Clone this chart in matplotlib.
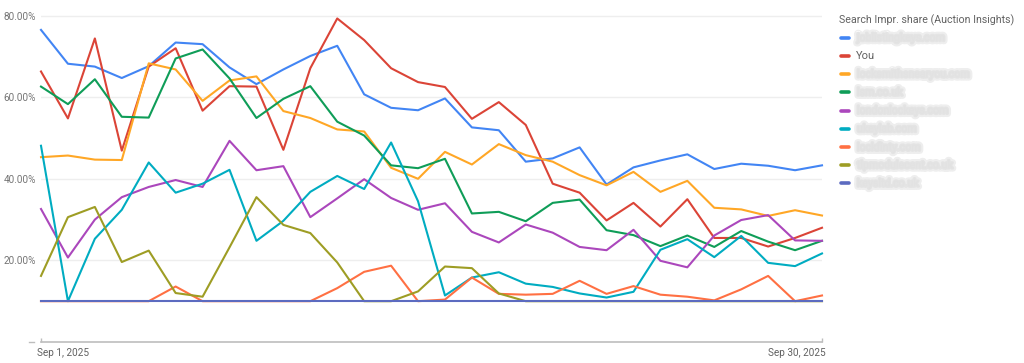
import matplotlib
matplotlib.use("Agg")
import matplotlib.pyplot as plt
import matplotlib.patheffects as pe
import matplotlib.transforms as mtransforms
import numpy as np
import pandas as pd

plt.rcParams['font.family'] = ['Roboto', 'DejaVu Sans']

dates = pd.date_range("2025-09-01", "2025-09-30", freq="D")

legend_title = "Search Impr. share (Auction Insights)"
series_names = ["joblistingkeys.com", "You", "locksmithsnearyou.com", "lsm.co.uk",
                "londonlockeys.com", "ukeylab.com", "lockfinty.com",
                "tlpmodulecent.co.uk", "keysltd.co.uk"]
series_colors = ["#4285F4", "#DB4437", "#FFA726", "#0F9D58", "#AB47BC",
                 "#00ACC1", "#FF7043", "#9E9D24", "#5C6BC0"]

blue = [76.5, 68.2, 67.5, 64.7, 67.6, 73.4, 73.0, 67.3, 63.2, 66.8,
        70.1, 72.6, 60.7, 57.4, 56.8, 59.7, 52.6, 51.9, 44.2, 45.0,
        47.7, 38.6, 42.8, 44.5, 46.0, 42.4, 43.7, 43.2, 42.1, 43.3]
you = [66.3, 54.8, 74.4, 46.9, 67.5, 72.0, 56.7, 62.7, 62.6, 47.1,
       67.1, 79.3, 74.0, 67.1, 63.7, 62.5, 54.7, 58.8, 53.2, 38.8,
       36.6, 29.8, 34.1, 28.3, 35.0, 25.5, 25.5, 23.4, 25.5, 28.0]
orange = [45.3, 45.7, 44.7, 44.6, 68.3, 66.8, 59.1, 64.1, 65.1, 56.6,
          54.9, 52.1, 51.6, 42.7, 40.0, 46.6, 43.5, 48.5, 45.8, 44.2,
          40.9, 38.4, 41.7, 36.8, 39.5, 32.9, 32.5, 30.9, 32.3, 31.0]
green = [62.6, 58.3, 64.4, 55.2, 55.0, 69.5, 71.7, 64.6, 54.9, 59.6,
         62.7, 54.0, 50.6, 43.3, 42.6, 44.9, 31.5, 31.9, 29.6, 34.1,
         34.9, 27.4, 26.2, 23.5, 26.1, 23.3, 27.2, 24.6, 22.5, 24.8]
purple = [32.6, 20.7, 30.0, 35.5, 38.0, 39.7, 38.0, 49.3, 42.1, 43.1,
          30.6, 35.2, 39.9, 35.3, 32.4, 34.0, 27.0, 24.4, 28.8, 26.8,
          23.3, 22.5, 27.5, 19.9, 18.3, 26.1, 29.9, 31.1, 24.9, 24.8]
cyan = [48.1, 10.0, 25.3, 32.4, 44.0, 36.6, 38.8, 42.2, 24.8, 29.7,
        36.8, 40.7, 37.5, 48.9, 34.5, 11.4, 15.8, 17.1, 14.3, 13.5,
        11.9, 10.9, 12.3, 22.6, 25.2, 20.8, 26.0, 19.4, 18.6, 21.7]
tomato = [10.0, 10.0, 10.0, 10.0, 10.0, 13.6, 10.0, 10.0, 10.0, 10.0,
          10.0, 13.2, 17.2, 18.7, 10.0, 10.4, 15.8, 11.8, 11.6, 11.8,
          15.0, 11.8, 13.7, 11.6, 11.1, 10.2, 12.9, 16.2, 10.0, 11.4]
olive = [16.2, 30.6, 33.1, 19.6, 22.4, 12.0, 11.1, 23.2, 35.5, 28.7,
         26.7, 19.5, 10.0, 10.0, 12.4, 18.5, 18.1, 11.9, 10.0, 10.0,
         10.0, 10.0, 10.0, 10.0, 10.0, 10.0, 10.0, 10.0, 10.0, 10.0]
navy = [10.0] * 30

series_values = [blue, you, orange, green, purple, cyan, tomato, olive, navy]

yticks = [20, 40, 60, 80]
ytick_labels = ["20.00%", "40.00%", "60.00%", "80.00%"]
xtick_labels = ["Sep 1, 2025", "Sep 30, 2025"]

W, H = 1024, 363
fig = plt.figure(figsize=(W / 100, H / 100), dpi=100)

ymax = 82
px_per = 4.08
ax_left, ax_right = 41, 822
ax_bottom = 342
ax_top = ax_bottom - ymax * px_per
ax = fig.add_axes([ax_left / W, 1 - ax_bottom / H,
                   (ax_right - ax_left) / W, (ax_bottom - ax_top) / H])
ax.set_xlim(dates[0], dates[-1])
ax.set_ylim(0, ymax)

for vals, col in zip(series_values, series_colors):
    ax.plot(dates, vals, color=col, lw=1.5, solid_joinstyle='round', clip_on=False)

for yv in yticks:
    ax.axhline(yv, color='#eeeeee', lw=1.0, zorder=0)

for s in ['top', 'right', 'left']:
    ax.spines[s].set_visible(False)
ax.spines['bottom'].set_color('#bdbdbd')
ax.spines['bottom'].set_linewidth(1.2)
ax.set_yticks(yticks)
ax.set_yticklabels(ytick_labels)
ax.tick_params(axis='y', length=0, labelsize=7.2, labelcolor='#757575', pad=3.6)

ax.set_xticks([dates[0], dates[-1]])
ax.set_xticklabels(xtick_labels)
ax.tick_params(axis='x', direction='in', length=3, width=1, color='#bdbdbd',
               labelsize=7.2, labelcolor='#616161', pad=4)
xl = ax.get_xticklabels()
xl[0].set_horizontalalignment('left')
xl[0].set_transform(xl[0].get_transform() +
                    mtransforms.ScaledTranslation(-4 / 100, 0, fig.dpi_scale_trans))
xl[1].set_horizontalalignment('right')
xl[1].set_transform(xl[1].get_transform() +
                    mtransforms.ScaledTranslation(4 / 100, 0, fig.dpi_scale_trans))

# small dash at the left of the axis
fig.add_artist(plt.Line2D([29 / W, 34 / W], [1 - 341.5 / H] * 2, color='#bdbdbd', lw=1))

# legend
fig.text(839 / W, 1 - 20 / H, legend_title, fontsize=7.65, color='#616161', va='center', ha='left')
for i, (name, col) in enumerate(zip(series_names, series_colors)):
    y = 1 - (37.8 + 18.2 * i) / H
    fig.add_artist(plt.Line2D([840.5 / W, 848.5 / W], [y, y], color=col, lw=2.6,
                              solid_capstyle='round'))
    if name == "You":
        fig.text(856 / W, y, name, fontsize=8, color='#616161', va='center', ha='left')
    else:
        t = fig.text(857 / W, y, name, fontsize=7.6, color='#e2e2e2', va='center', ha='left')
        t.set_path_effects([pe.Stroke(linewidth=5, foreground='#eeeeee'),
                            pe.Stroke(linewidth=2, foreground='#e4e4e4'), pe.Normal()])

fig.savefig("out.png", dpi=100)
